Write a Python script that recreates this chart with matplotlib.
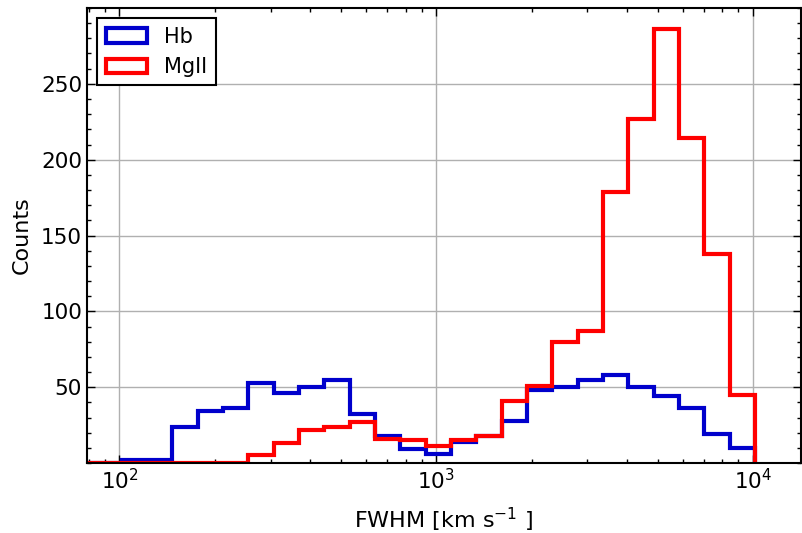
import numpy as np
import matplotlib
matplotlib.use('Agg')
import matplotlib.pyplot as plt
from matplotlib.ticker import MultipleLocator

# log10 bin edges (0.08 dex wide)
log_edges = [1.847, 1.927, 2.007, 2.087, 2.167, 2.247, 2.327, 2.407, 2.487,
             2.567, 2.647, 2.727, 2.807, 2.887, 2.967, 3.047, 3.127, 3.207,
             3.287, 3.367, 3.447, 3.527, 3.607, 3.687, 3.767, 3.847, 3.927,
             4.007]

hb_counts = [0, 0, 2, 2, 24, 34, 36, 53, 46, 50, 55, 32, 18, 9, 6, 14, 18,
             28, 48, 50, 55, 58, 50, 44, 36, 19, 10]
mg_counts = [0, 0, 0, 0, 0, 0, 0, 5, 13, 22, 24, 27, 16, 15, 11, 15, 18,
             41, 51, 80, 87, 179, 227, 286, 214, 138, 45]

labels = ['Hb', 'MgII']
colors = ['#0000cc', '#ff0000']

edges = 10 ** np.array(log_edges)
centers = np.sqrt(edges[:-1] * edges[1:])

fig = plt.figure(figsize=(8.02, 5.33), dpi=100)
ax = fig.add_axes([0.1085, 0.1313, 0.8905, 0.8537])

ax.hist(centers, bins=edges, weights=hb_counts, histtype='step',
        color=colors[0], lw=3, label=labels[0])
ax.hist(centers, bins=edges, weights=mg_counts, histtype='step',
        color=colors[1], lw=3, label=labels[1])

ax.set_xscale('log')
ax.set_xlim(79, 14200)
ax.set_ylim(0, 300)
ax.set_yticks([50, 100, 150, 200, 250])
ax.yaxis.set_minor_locator(MultipleLocator(10))

ax.grid(True, which='major', color='#b0b0b0', lw=1)
ax.set_axisbelow(True)
ax.tick_params(which='both', direction='in', top=True, right=True,
               labelsize=15.5)
ax.tick_params(which='major', length=6, width=1)
ax.tick_params(which='minor', length=3, width=1)
for s in ax.spines.values():
    s.set_linewidth(1.5)

ax.set_xlabel(r'FWHM [km s$^{-1}$ ]', fontsize=16, labelpad=9)
ax.set_ylabel('Counts', fontsize=16, labelpad=7)

leg = ax.legend(loc='upper left', fontsize=15, fancybox=False,
                framealpha=1, edgecolor='black', borderaxespad=0.5,
                handlelength=2.0)
leg.get_frame().set_linewidth(1.5)

fig.savefig('out.png', dpi=100)
